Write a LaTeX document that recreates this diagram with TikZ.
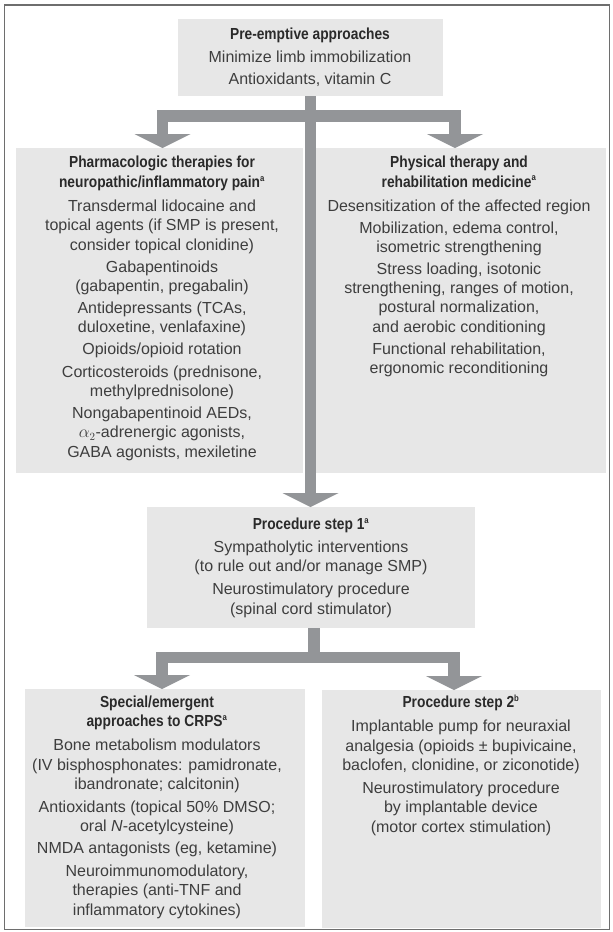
\documentclass[tikz,border=0pt]{standalone}
\usepackage{fontspec}
\setmainfont{Liberation Sans}
\newfontfamily\headfont[FakeStretch=0.86]{Liberation Sans}
\usetikzlibrary{arrows.meta}
\definecolor{boxgray}{RGB}{231,231,231}
\definecolor{arrowgray}{RGB}{147,149,152}
\definecolor{textgray}{RGB}{62,62,62}
\definecolor{headgray}{RGB}{42,42,42}
\definecolor{framegray}{RGB}{110,110,110}
\newcommand{\hd}[1]{{\headfont\bfseries\color{headgray}#1}}
\newcommand{\sups}[1]{\textsuperscript{\fontsize{9}{9}\selectfont #1}}
\begin{document}
\begin{tikzpicture}[x=1pt,y=-1pt,
  box/.style={fill=boxgray, draw=none, inner sep=0pt, outer sep=0pt, anchor=north west},
  txt/.style={align=center, inner sep=0pt, anchor=base, text=textgray, font=\fontsize{16}{19.3}\selectfont},
  flow/.style={draw=arrowgray, line width=11.5pt, -{Triangle[width=56pt,length=14pt,line width=0pt]}},
  flowline/.style={draw=arrowgray, line width=11.5pt},
  frame/.style={draw=framegray, line width=1.4pt}
]
\useasboundingbox (0,0) rectangle (613,932);
\draw[frame] (4.5,5) rectangle (609.5,929.5);

% boxes
\node[box, minimum width=265pt, minimum height=77pt] (pre) at (178,19) {};
\node[box, minimum width=287pt, minimum height=325pt] (pharm) at (16,148) {};
\node[box, minimum width=290pt, minimum height=325pt] (phys) at (316,148) {};
\node[box, minimum width=328pt, minimum height=121pt] (step1) at (147,507) {};
\node[box, minimum width=280pt, minimum height=238pt] (spec) at (25,689) {};
\node[box, minimum width=279pt, minimum height=238pt] (proc2) at (322,690) {};

% texts (anchor = baseline of the last line)
\node[txt] (pretxt) at (310,84) {\hd{Pre-emptive approaches}\\[3.2pt]
Minimize limb immobilization\\[2.7pt]
Antioxidants, vitamin C};

\node[txt] (pharmtxt) at (162,457) {\hd{Pharmacologic therapies for}\\[0.7pt]
\hd{neuropathic/inflammatory pain\sups{a}}\\[4.7pt]
Transdermal lidocaine and\\ topical agents (if SMP is present,\\ consider topical clonidine)\\[2.8pt]
Gabapentinoids\\ (gabapentin, pregabalin)\\[2.8pt]
Antidepressants (TCAs,\\ duloxetine, venlafaxine)\\[2.8pt]
Opioids/opioid rotation\\[2.8pt]
Corticosteroids (prednisone,\\ methylprednisolone)\\[2.8pt]
Nongabapentinoid AEDs,\\ $\alpha_2$-adrenergic agonists,\\ GABA agonists, mexiletine};

\node[txt] (phystxt) at (459,373.5) {\hd{Physical therapy and}\\[0.7pt]
\hd{rehabilitation medicine\sups{a}}\\[4.7pt]
Desensitization of the affected region\\[2.7pt]
Mobilization, edema control,\\ isometric strengthening\\[2.7pt]
Stress loading, isotonic\\ strengthening, ranges of motion,\\ postural normalization,\\ and aerobic conditioning\\[2.7pt]
Functional rehabilitation,\\ ergonomic reconditioning};

\node[txt] (step1txt) at (311,614) {\hd{Procedure step 1\sups{a}}\\[3.7pt]
Sympatholytic interventions\\ (to rule out and/or manage SMP)\\[3.5pt]
Neurostimulatory procedure\\ (spinal cord stimulator)};

\node[txt] (spectxt) at (157,915) {\hd{Special/emergent}\\[0.2pt]
\hd{approaches to CRPS\sups{a}}\\[4.7pt]
Bone metabolism modulators\\ (IV bisphosphonates: pamidronate,\\ ibandronate; calcitonin)\\[3.5pt]
Antioxidants (topical 50\% DMSO;\\ oral \textit{N}-acetylcysteine)\\[2.7pt]
NMDA antagonists (eg, ketamine)\\[3.5pt]
Neuroimmunomodulatory,\\ therapies (anti-TNF and\\ inflammatory cytokines)};

\node[txt] (proc2txt) at (461,832) {\hd{Procedure step 2\sups{b}}\\[4.7pt]
Implantable pump for neuraxial\\ analgesia (opioids ± bupivicaine,\\ baclofen, clonidine, or ziconotide)\\[3.7pt]
Neurostimulatory procedure\\ by implantable device\\ (motor cortex stimulation)};

% connectors
\coordinate (split1) at (310.5,116);
\coordinate (split2) at (314,657.5);
\draw[flow] (pre.south) -- (pre.south |- step1.north);
\draw[flow] (split1) -| ([xshift=3pt]pharm.north);
\draw[flow] (split1) -| ([xshift=-6pt]phys.north);
\draw[flowline] (step1.south -| split2) -- (split2);
\draw[flow] (split2) -| ([xshift=-3pt]spec.north);
\draw[flow] (split2) -| ([xshift=-7.5pt]proc2.north);
\end{tikzpicture}
\end{document}
